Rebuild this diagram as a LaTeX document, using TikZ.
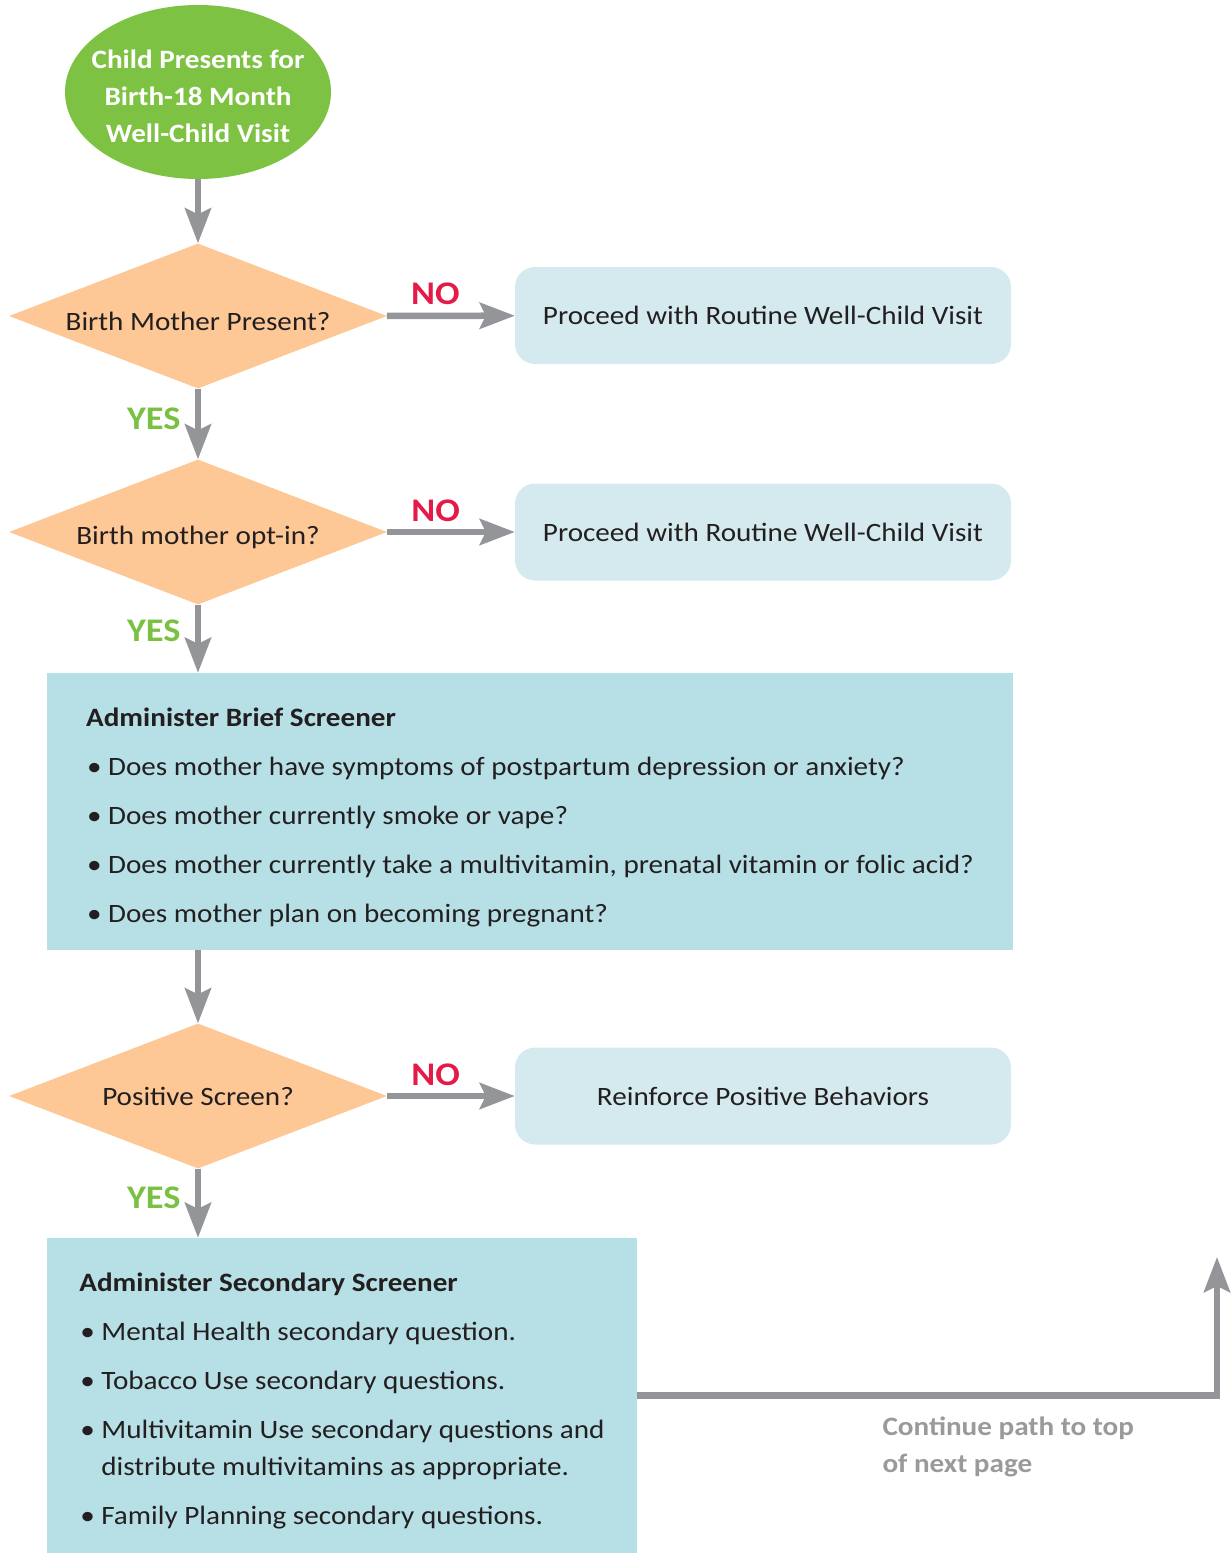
\documentclass[tikz,border=0pt]{standalone}
\usepackage{fontspec}
\setmainfont{Carlito}[FakeStretch=1.1]
\usetikzlibrary{arrows.meta,shapes.geometric}
\definecolor{startgreen}{RGB}{125,194,66}
\definecolor{peach}{RGB}{253,200,150}
\definecolor{lightbox}{RGB}{212,234,239}
\definecolor{screenblue}{RGB}{183,224,230}
\definecolor{arrowgray}{RGB}{147,149,152}
\definecolor{nored}{RGB}{228,27,72}
\definecolor{yesgreen}{RGB}{122,193,67}
\definecolor{notegray}{RGB}{153,154,156}
\definecolor{textdark}{RGB}{35,31,32}
\newcommand\bodyfont{\fontsize{26.5pt}{37pt}\selectfont}
\newcommand\bul{\hspace*{1pt}\makebox[21pt][l]{•}}
\newcommand\topstrut[1]{\rule{0pt}{#1}}
\begin{document}
\begin{tikzpicture}[x=1pt,y=-1pt,
  flow/.style={draw=arrowgray, line width=6.5pt,
    -{Stealth[length=35pt,width=26pt,inset=6pt]}},
  startnode/.style={ellipse, fill=startgreen, minimum width=266pt,
    minimum height=174pt, inner sep=-20pt, text=white, align=center,
    font=\bodyfont\bfseries},
  decision/.style={diamond, shape aspect=2.6, fill=peach, minimum width=378pt,
    minimum height=145pt, inner sep=0pt, text=textdark, font=\bodyfont},
  optionbox/.style={rectangle, rounded corners=20pt, fill=lightbox,
    minimum width=496pt, minimum height=97pt, text=textdark, font=\bodyfont},
  screenbox/.style={rectangle, fill=screenblue, inner sep=0pt, align=left,
    text=textdark, font=\bodyfont},
  nolabel/.style={text=nored, font=\fontsize{33pt}{40pt}\selectfont\bfseries},
  yeslabel/.style={text=yesgreen, font=\fontsize{33pt}{40pt}\selectfont\bfseries},
  notetext/.style={text=notegray, align=left, font=\bodyfont\bfseries}
]
\useasboundingbox (0,0) rectangle (1231,1555);

\node (start) [startnode] at (198,92) {\topstrut{28pt}Child Presents for\\Birth-18 Month\\Well-Child Visit};

\node (d1) [decision] at (198,316) {\topstrut{30pt}Birth Mother Present?};
\node (r1) [optionbox] at (763,315.5) {Proceed with Routine Well-Child Visit};

\node (d2) [decision] at (198,532) {\topstrut{30pt}Birth mother opt-in?};
\node (r2) [optionbox] at (763,532) {Proceed with Routine Well-Child Visit};

\node (b1) [screenbox, minimum width=966pt, minimum height=277pt] at (530,811.5)
  {\topstrut{30pt}\textbf{Administer Brief Screener}\\[12pt]
   \bul Does mother have symptoms of postpartum depression or anxiety?\\[12pt]
   \bul Does mother currently smoke or vape?\\[12pt]
   \bul Does mother currently take a multivitamin, prenatal vitamin or folic acid?\\[12pt]
   \bul Does mother plan on becoming pregnant?};

\node (d3) [decision] at (198,1096) {Positive Screen?};
\node (r3) [optionbox] at (763,1096) {Reinforce Positive Behaviors};

\node (b2) [screenbox, minimum width=590pt, minimum height=315pt] at (342,1395.5)
  {\topstrut{30pt}\textbf{Administer Secondary Screener}\\[12pt]
   \bul Mental Health secondary question.\\[12pt]
   \bul Tobacco Use secondary questions.\\[12pt]
   \bul Multivitamin Use secondary questions and\\
   \hspace*{22pt}distribute multivitamins as appropriate.\\[12pt]
   \bul Family Planning secondary questions.};

\coordinate (cont) at (1217,1257);
\node (note) [notetext, anchor=west] at (879,1447) {Continue path to top\\of next page};

\draw[flow] (start) -- (d1);
\draw[flow] (d1) -- node[nolabel, pos=0.38, above=4pt] {NO} (r1);
\draw[flow] (d1) -- node[yeslabel, pos=0.42, left=11pt] {YES} (d2);
\draw[flow] (d2) -- node[nolabel, pos=0.38, above=4pt] {NO} (r2);
\draw[flow] (d2.south) -- node[yeslabel, pos=0.38, left=11pt] {YES} (d2.south |- b1.north);
\draw[flow] (d3.north |- b1.south) -- (d3.north);
\draw[flow] (d3) -- node[nolabel, pos=0.38, above=4pt] {NO} (r3);
\draw[flow] (d3.south) -- node[yeslabel, pos=0.42, left=11pt] {YES} (d3.south |- b2.north);
\draw[flow] (b2.east) -| (cont);
\end{tikzpicture}
\end{document}
